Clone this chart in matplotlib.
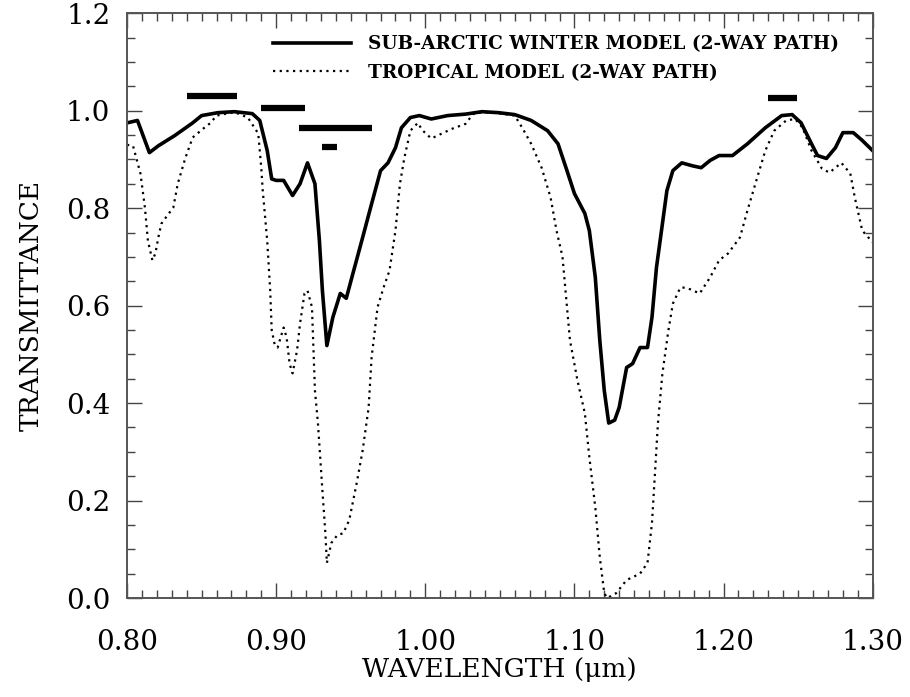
import matplotlib
matplotlib.use("Agg")
import matplotlib.pyplot as plt
from matplotlib.ticker import MultipleLocator

# wavelength (um) / transmittance, sub-arctic winter model (2-way path)
sub_wl = [0.800, 0.807, 0.815, 0.821, 0.832, 0.844, 0.850, 0.861, 0.872, 0.884,
          0.889, 0.894, 0.897, 0.900, 0.905, 0.911, 0.916, 0.921, 0.926, 0.929,
          0.931, 0.934, 0.938, 0.943, 0.947, 0.952, 0.958, 0.964, 0.970, 0.975,
          0.980, 0.984, 0.990, 0.996, 1.004, 1.015, 1.027, 1.038, 1.049, 1.060,
          1.071, 1.082, 1.089, 1.095, 1.100, 1.107, 1.110, 1.114, 1.117, 1.120,
          1.123, 1.127, 1.130, 1.135, 1.139, 1.144, 1.149, 1.152, 1.155, 1.159,
          1.162, 1.166, 1.172, 1.179, 1.185, 1.191, 1.197, 1.206, 1.216, 1.228,
          1.239, 1.246, 1.252, 1.259, 1.263, 1.269, 1.275, 1.280, 1.287, 1.293,
          1.300]
sub_T = [0.975, 0.980, 0.914, 0.928, 0.949, 0.975, 0.990, 0.996, 0.998, 0.994,
         0.980, 0.918, 0.860, 0.857, 0.857, 0.826, 0.850, 0.893, 0.850, 0.733,
         0.631, 0.518, 0.576, 0.625, 0.615, 0.672, 0.740, 0.809, 0.877, 0.893,
         0.924, 0.965, 0.986, 0.990, 0.983, 0.990, 0.993, 0.998, 0.996, 0.992,
         0.980, 0.959, 0.932, 0.877, 0.830, 0.789, 0.754, 0.658, 0.529, 0.426,
         0.359, 0.365, 0.391, 0.473, 0.481, 0.514, 0.514, 0.576, 0.678, 0.768,
         0.836, 0.877, 0.893, 0.887, 0.883, 0.898, 0.908, 0.908, 0.932, 0.965,
         0.990, 0.992, 0.975, 0.932, 0.908, 0.902, 0.924, 0.955, 0.955, 0.939,
         0.918]

# tropical model (2-way path)
trop_wl = [0.800, 0.804, 0.809, 0.812, 0.814, 0.817, 0.819, 0.821, 0.823, 0.827,
           0.831, 0.834, 0.839, 0.844, 0.851, 0.856, 0.860, 0.872, 0.881, 0.888,
           0.890, 0.891, 0.894, 0.896, 0.897, 0.899, 0.901, 0.905, 0.907, 0.909,
           0.911, 0.914, 0.916, 0.919, 0.921, 0.924, 0.926, 0.928, 0.931, 0.933,
           0.934, 0.937, 0.941, 0.945, 0.949, 0.954, 0.958, 0.962, 0.964, 0.968,
           0.972, 0.976, 0.980, 0.983, 0.986, 0.990, 0.995, 0.998, 1.004, 1.011,
           1.018, 1.027, 1.032, 1.038, 1.049, 1.060, 1.065, 1.071, 1.078, 1.084,
           1.088, 1.092, 1.097, 1.102, 1.107, 1.110, 1.114, 1.117, 1.120, 1.122,
           1.128, 1.135, 1.144, 1.149, 1.152, 1.154, 1.156, 1.159, 1.163, 1.166,
           1.171, 1.175, 1.184, 1.191, 1.197, 1.203, 1.211, 1.216, 1.222, 1.228,
           1.234, 1.242, 1.248, 1.253, 1.259, 1.266, 1.271, 1.279, 1.285, 1.288,
           1.293, 1.300]
trop_T = [0.930, 0.928, 0.871, 0.801, 0.733, 0.693, 0.707, 0.740, 0.768, 0.785,
          0.801, 0.850, 0.902, 0.945, 0.963, 0.975, 0.990, 0.997, 0.986, 0.953,
          0.883, 0.836, 0.733, 0.631, 0.550, 0.520, 0.514, 0.555, 0.535, 0.481,
          0.461, 0.508, 0.563, 0.625, 0.631, 0.597, 0.426, 0.359, 0.221, 0.133,
          0.072, 0.113, 0.129, 0.133, 0.160, 0.236, 0.303, 0.391, 0.494, 0.597,
          0.637, 0.672, 0.754, 0.850, 0.904, 0.959, 0.975, 0.960, 0.943, 0.953,
          0.963, 0.973, 0.993, 0.997, 0.995, 0.990, 0.965, 0.932, 0.883, 0.822,
          0.754, 0.700, 0.529, 0.447, 0.379, 0.289, 0.186, 0.084, 0.010, 0.000,
          0.010, 0.037, 0.050, 0.072, 0.154, 0.256, 0.359, 0.461, 0.549, 0.604,
          0.637, 0.637, 0.625, 0.658, 0.693, 0.707, 0.740, 0.795, 0.857, 0.918,
          0.959, 0.980, 0.983, 0.965, 0.918, 0.881, 0.873, 0.893, 0.871, 0.822,
          0.754, 0.730]

# channel bands (thick bars)
band_lo = [0.840, 0.890, 0.915, 0.931, 1.230]
band_hi = [0.874, 0.919, 0.964, 0.941, 1.249]
band_y = [1.030, 1.006, 0.965, 0.926, 1.027]

plt.rcParams['font.family'] = 'DejaVu Serif'

fig = plt.figure(figsize=(9.10, 6.97), dpi=100)
ax = fig.add_axes([0.1396, 0.142, 0.8194, 0.839])

ax.plot(sub_wl, sub_T, color='black', lw=2.6, label='SUB-ARCTIC WINTER MODEL (2-WAY PATH)')
ax.plot(trop_wl, trop_T, color='black', lw=1.6, ls=(0, (1, 2)), label='TROPICAL MODEL (2-WAY PATH)')
ax.hlines(band_y, band_lo, band_hi, color='black', lw=4.5)

ax.set_xlim(0.80, 1.30)
ax.set_ylim(0.0, 1.2)
ax.xaxis.set_major_locator(MultipleLocator(0.1))
ax.xaxis.set_minor_locator(MultipleLocator(0.01))
ax.yaxis.set_major_locator(MultipleLocator(0.2))
ax.yaxis.set_minor_locator(MultipleLocator(0.05))
ax.xaxis.set_major_formatter(plt.FormatStrFormatter('%.2f'))
ax.yaxis.set_major_formatter(plt.FormatStrFormatter('%.1f'))
ax.tick_params(which='both', direction='in', top=True, right=True, color='#444444')
ax.tick_params(which='major', length=11, width=1.0)
ax.tick_params(which='minor', length=6, width=1.0)
ax.tick_params(axis='x', which='major', pad=22, labelsize=20)
ax.tick_params(axis='y', which='major', pad=12, labelsize=20)
for s in ax.spines.values():
    s.set_color('#555555')
    s.set_linewidth(1.4)

ax.set_xlabel('WAVELENGTH (\u03bcm)', fontsize=19, labelpad=1)
ax.set_ylabel('TRANSMITTANCE', fontsize=19, labelpad=16)

ax.legend(loc='upper left', bbox_to_anchor=(0.196, 0.962), frameon=False,
          borderpad=0, borderaxespad=0, handlelength=4.2, handletextpad=0.95,
          labelspacing=0.55, prop={'size': 13.3, 'weight': 'bold'})

fig.savefig('out.png', dpi=100)
